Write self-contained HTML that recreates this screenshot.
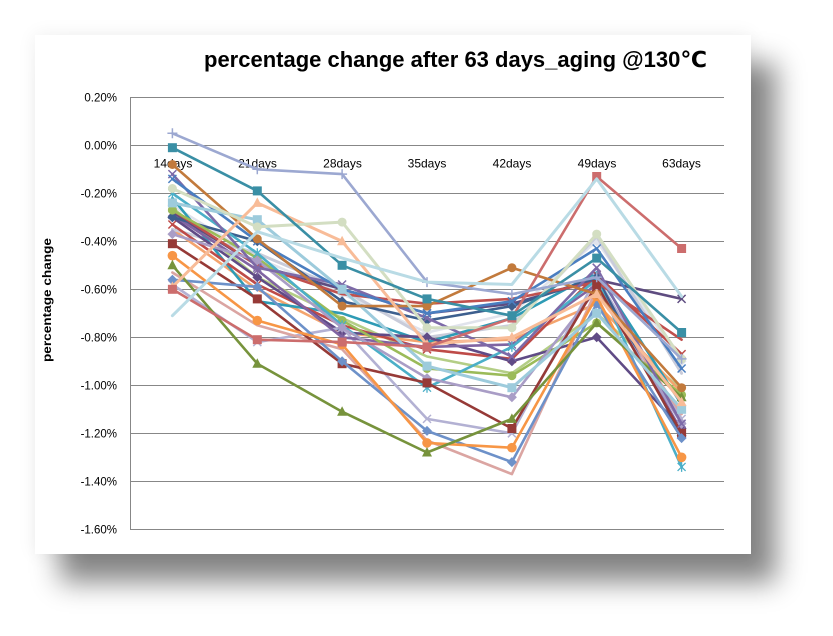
<!DOCTYPE html>
<html>
<head>
<meta charset="utf-8">
<style>
  html,body{margin:0;padding:0;background:#ffffff;}
  body{width:833px;height:636px;position:relative;overflow:hidden;}
  .panel{position:absolute;left:35px;top:35px;width:716px;height:519px;background:#fff;
    box-shadow:25px 28px 26px rgba(0,0,0,0.48), 0 0 18px rgba(0,0,0,0.07);}
  svg{position:absolute;left:0;top:0;}
  text{font-family:"Liberation Sans","DejaVu Sans","Noto Sans CJK SC",sans-serif;fill:#000;}
</style>
</head>
<body>
<div class="panel"></div>
<svg width="833" height="636" viewBox="0 0 833 636" xmlns="http://www.w3.org/2000/svg">
<defs>
  <marker id="m1" markerUnits="userSpaceOnUse" markerWidth="12" markerHeight="12" refX="0" refY="0" viewBox="-6 -6 12 12" overflow="visible"><path d="M-5,0H5M0,-5V5" stroke="#9CA8D1" stroke-width="1.5"/></marker>
  <marker id="m2" markerUnits="userSpaceOnUse" markerWidth="12" markerHeight="12" refX="0" refY="0" viewBox="-6 -6 12 12" overflow="visible"><rect x="-4.5" y="-4.5" width="9" height="9" fill="#3A8FA5"/></marker>
  <marker id="m3" markerUnits="userSpaceOnUse" markerWidth="12" markerHeight="12" refX="0" refY="0" viewBox="-6 -6 12 12" overflow="visible"><circle r="4.5" fill="#C27A3C"/></marker>
  <marker id="m4" markerUnits="userSpaceOnUse" markerWidth="12" markerHeight="12" refX="0" refY="0" viewBox="-6 -6 12 12" overflow="visible"><path d="M-4,-4L4,4M-4,4L4,-4" stroke="#7D6AA8" stroke-width="1.5"/></marker>
  <marker id="m5" markerUnits="userSpaceOnUse" markerWidth="12" markerHeight="12" refX="0" refY="0" viewBox="-6 -6 12 12" overflow="visible"><path d="M-4,-4L4,4M-4,4L4,-4" stroke="#4A7EC0" stroke-width="1.5"/></marker>
  <marker id="m6" markerUnits="userSpaceOnUse" markerWidth="12" markerHeight="12" refX="0" refY="0" viewBox="-6 -6 12 12" overflow="visible"><circle r="4.5" fill="#D3DEC2"/></marker>
  <marker id="m7" markerUnits="userSpaceOnUse" markerWidth="12" markerHeight="12" refX="0" refY="0" viewBox="-6 -6 12 12" overflow="visible"><rect x="-4.5" y="-4.5" width="9" height="9" fill="#9DCBDC"/></marker>
  <marker id="m8" markerUnits="userSpaceOnUse" markerWidth="12" markerHeight="12" refX="0" refY="0" viewBox="-6 -6 12 12" overflow="visible"><path d="M-4,-4L4,4M-4,4L4,-4M0,-5V5" stroke="#4BAFC8" stroke-width="1.3"/></marker>
  <marker id="m9" markerUnits="userSpaceOnUse" markerWidth="12" markerHeight="12" refX="0" refY="0" viewBox="-6 -6 12 12" overflow="visible"><circle r="4.5" fill="#9BBB59"/></marker>
  <marker id="m11" markerUnits="userSpaceOnUse" markerWidth="12" markerHeight="12" refX="0" refY="0" viewBox="-6 -6 12 12" overflow="visible"><path d="M-4,-4L4,4M-4,4L4,-4M0,-5V5" stroke="#8064A2" stroke-width="1.3"/></marker>
  <marker id="m12" markerUnits="userSpaceOnUse" markerWidth="12" markerHeight="12" refX="0" refY="0" viewBox="-6 -6 12 12" overflow="visible"><path d="M0,-5L5,0L0,5L-5,0Z" fill="#3D5F8E"/></marker>
  <marker id="m13" markerUnits="userSpaceOnUse" markerWidth="12" markerHeight="12" refX="0" refY="0" viewBox="-6 -6 12 12" overflow="visible"><path d="M0,-5L5,0L0,5L-5,0Z" fill="#A99DC6"/></marker>
  <marker id="m14" markerUnits="userSpaceOnUse" markerWidth="12" markerHeight="12" refX="0" refY="0" viewBox="-6 -6 12 12" overflow="visible"><rect x="-4.5" y="-4.5" width="9" height="9" fill="#963A37"/></marker>
  <marker id="m15" markerUnits="userSpaceOnUse" markerWidth="12" markerHeight="12" refX="0" refY="0" viewBox="-6 -6 12 12" overflow="visible"><circle r="4.8" fill="#F79646"/></marker>
  <marker id="m16" markerUnits="userSpaceOnUse" markerWidth="12" markerHeight="12" refX="0" refY="0" viewBox="-6 -6 12 12" overflow="visible"><path d="M0,-5.5L5,4L-5,4Z" fill="#77933C"/></marker>
  <marker id="m17" markerUnits="userSpaceOnUse" markerWidth="12" markerHeight="12" refX="0" refY="0" viewBox="-6 -6 12 12" overflow="visible"><path d="M0,-5L5,0L0,5L-5,0Z" fill="#6D91C9"/></marker>
  <marker id="m18" markerUnits="userSpaceOnUse" markerWidth="12" markerHeight="12" refX="0" refY="0" viewBox="-6 -6 12 12" overflow="visible"><path d="M0,-5.5L5,4L-5,4Z" fill="#F8BC98"/></marker>
  <marker id="m19" markerUnits="userSpaceOnUse" markerWidth="12" markerHeight="12" refX="0" refY="0" viewBox="-6 -6 12 12" overflow="visible"><rect x="-4.5" y="-4.5" width="9" height="9" fill="#CC6D6D"/></marker>
  <marker id="m22" markerUnits="userSpaceOnUse" markerWidth="12" markerHeight="12" refX="0" refY="0" viewBox="-6 -6 12 12" overflow="visible"><path d="M-4,-4L4,4M-4,4L4,-4" stroke="#5E4C80" stroke-width="1.5"/></marker>
  <marker id="m23" markerUnits="userSpaceOnUse" markerWidth="12" markerHeight="12" refX="0" refY="0" viewBox="-6 -6 12 12" overflow="visible"><path d="M-4,-4L4,4M-4,4L4,-4" stroke="#B3B1D3" stroke-width="1.5"/></marker>
  <marker id="m24" markerUnits="userSpaceOnUse" markerWidth="12" markerHeight="12" refX="0" refY="0" viewBox="-6 -6 12 12" overflow="visible"><path d="M0,-5L5,0L0,5L-5,0Z" fill="#604B86"/></marker>
  <marker id="m25" markerUnits="userSpaceOnUse" markerWidth="12" markerHeight="12" refX="0" refY="0" viewBox="-6 -6 12 12" overflow="visible"><path d="M-4,-4L4,4M-4,4L4,-4" stroke="#BE4B48" stroke-width="1.5"/></marker>
  <marker id="m30" markerUnits="userSpaceOnUse" markerWidth="12" markerHeight="12" refX="0" refY="0" viewBox="-6 -6 12 12" overflow="visible"><path d="M0,-5L5,0L0,5L-5,0Z" fill="#E0E3EC"/></marker>
</defs>

<!-- title -->
<text x="204" y="67" font-size="22" font-weight="bold" textLength="503" lengthAdjust="spacingAndGlyphs">percentage change after 63 days_aging @130℃</text>

<!-- gridlines -->
<g stroke="#878787" stroke-width="1" fill="none">
  <line x1="130" y1="97.5" x2="724" y2="97.5"/>
  <line x1="130" y1="145.5" x2="724" y2="145.5"/>
  <line x1="130" y1="193.5" x2="724" y2="193.5"/>
  <line x1="130" y1="241.5" x2="724" y2="241.5"/>
  <line x1="130" y1="289.5" x2="724" y2="289.5"/>
  <line x1="130" y1="337.5" x2="724" y2="337.5"/>
  <line x1="130" y1="385.5" x2="724" y2="385.5"/>
  <line x1="130" y1="433.5" x2="724" y2="433.5"/>
  <line x1="130" y1="481.5" x2="724" y2="481.5"/>
  <line x1="130" y1="529.5" x2="724" y2="529.5"/>
  <line x1="130.5" y1="97" x2="130.5" y2="530"/>
</g>

<!-- y tick labels -->
<g font-size="11.5" text-anchor="end">
  <text x="117" y="101.5">0.20%</text>
  <text x="117" y="149.5">0.00%</text>
  <text x="117" y="197.5">-0.20%</text>
  <text x="117" y="245.5">-0.40%</text>
  <text x="117" y="293.5">-0.60%</text>
  <text x="117" y="341.5">-0.80%</text>
  <text x="117" y="389.5">-1.00%</text>
  <text x="117" y="437.5">-1.20%</text>
  <text x="117" y="485.5">-1.40%</text>
  <text x="117" y="533.5">-1.60%</text>
</g>

<!-- y axis title -->
<text transform="translate(51,300) rotate(-90)" font-size="12" font-weight="bold" text-anchor="middle" textLength="124" lengthAdjust="spacingAndGlyphs">percentage change</text>

<!-- category labels -->
<g font-size="12" text-anchor="middle">
  <text x="173" y="167.5">14days</text>
  <text x="257.5" y="167.5">21days</text>
  <text x="342.5" y="167.5">28days</text>
  <text x="427" y="167.5">35days</text>
  <text x="512" y="167.5">42days</text>
  <text x="597" y="167.5">49days</text>
  <text x="681.5" y="167.5">63days</text>
</g>

<!-- series -->
<g fill="none" stroke-width="2.6" stroke-linejoin="round" stroke-linecap="round">
  <polyline stroke="#E0E3EC" marker-start="url(#m30)" marker-mid="url(#m30)" marker-end="url(#m30)" points="172.4,205.3 257.3,258.1 342.1,294.1 427,332.5 511.9,313.3 596.7,241.3 681.6,361.3"/>
  <polyline stroke="#B4CE86" points="172.4,207.7 257.3,277.3 342.1,318.1 427,356.5 511.9,373.3 596.7,313.3 681.6,390.1"/>
  <polyline stroke="#F4A46E" points="172.4,229.3 257.3,289.3 342.1,332.5 427,342.1 511.9,339.7 596.7,303.7 681.6,392.5"/>
  <polyline stroke="#C9CCDA" stroke-width="3" points="172.4,229.3 257.3,253.3 342.1,289.3 427,337.3 511.9,325.3 596.7,236.5 681.6,373.3"/>
  <polyline stroke="#2E9BB5" points="172.4,198.1 257.3,301.3 342.1,313.3 427,342.1 511.9,318.1 596.7,272.5 681.6,404.5"/>
  <polyline stroke="#BE4B48" marker-start="url(#m25)" marker-mid="url(#m25)" marker-end="url(#m25)" points="172.4,224.5 257.3,284.5 342.1,325.3 427,349.3 511.9,358.9 596.7,274.9 681.6,354.1"/>
  <polyline stroke="#604B86" marker-start="url(#m24)" marker-mid="url(#m24)" marker-end="url(#m24)" points="172.4,217.3 257.3,277.3 342.1,332.5 427,337.3 511.9,361.3 596.7,337.3 681.6,428.5"/>
  <polyline stroke="#B3B1D3" marker-start="url(#m23)" marker-mid="url(#m23)" marker-end="url(#m23)" points="172.4,284.5 257.3,342.1 342.1,327.7 427,418.9 511.9,433.3 596.7,277.3 681.6,418.9"/>
  <polyline stroke="#5E4C80" marker-start="url(#m22)" marker-mid="url(#m22)" marker-end="url(#m22)" points="172.4,212.5 257.3,265.3 342.1,289.3 427,313.3 511.9,303.7 596.7,279.7 681.6,298.9"/>
  <polyline stroke="#DBA5A2" points="172.4,272.5 257.3,325.3 342.1,349.3 427,440.5 511.9,474.1 596.7,289.3 681.6,414.1"/>
  <polyline stroke="#8064A2" marker-start="url(#m11)" marker-mid="url(#m11)" marker-end="url(#m11)" points="172.4,214.9 257.3,270.1 342.1,337.3 427,346.9 511.9,344.5 596.7,284.5 681.6,430.9"/>
  <polyline stroke="#3D5F8E" marker-start="url(#m12)" marker-mid="url(#m12)" marker-end="url(#m12)" points="172.4,217.3 257.3,241.3 342.1,301.3 427,320.5 511.9,306.1 596.7,277.3 681.6,435.7"/>
  <polyline stroke="#C0504D" points="172.4,210.1 257.3,265.3 342.1,294.1 427,303.7 511.9,298.9 596.7,282.1 681.6,339.7"/>
  <polyline stroke="#9BBB59" marker-start="url(#m9)" marker-mid="url(#m9)" marker-end="url(#m9)" points="172.4,210.1 257.3,258.1 342.1,320.5 427,368.5 511.9,375.7 596.7,322.9 681.6,394.9"/>
  <polyline stroke="#4BAFC8" marker-start="url(#m8)" marker-mid="url(#m8)" marker-end="url(#m8)" points="172.4,193.3 257.3,253.3 342.1,325.3 427,387.7 511.9,346.9 596.7,279.7 681.6,466.9"/>
  <polyline stroke="#A99DC6" marker-start="url(#m13)" marker-mid="url(#m13)" marker-end="url(#m13)" points="172.4,234.1 257.3,260.5 342.1,327.7 427,378.1 511.9,397.3 596.7,289.3 681.6,423.7"/>
  <polyline stroke="#963A37" marker-start="url(#m14)" marker-mid="url(#m14)" marker-end="url(#m14)" points="172.4,243.7 257.3,298.9 342.1,363.7 427,382.9 511.9,428.5 596.7,284.5 681.6,433.3"/>
  <polyline stroke="#6D91C9" marker-start="url(#m17)" marker-mid="url(#m17)" marker-end="url(#m17)" points="172.4,279.7 257.3,286.9 342.1,361.3 427,430.9 511.9,462.1 596.7,303.7 681.6,438.1"/>
  <polyline stroke="#F79646" marker-start="url(#m15)" marker-mid="url(#m15)" marker-end="url(#m15)" points="172.4,255.7 257.3,320.5 342.1,344.5 427,442.9 511.9,447.7 596.7,296.5 681.6,457.3"/>
  <polyline stroke="#77933C" marker-start="url(#m16)" marker-mid="url(#m16)" marker-end="url(#m16)" points="172.4,265.3 257.3,363.7 342.1,411.7 427,452.5 511.9,418.9 596.7,322.9 681.6,397.3"/>
  <polyline stroke="#7D6AA8" marker-start="url(#m4)" marker-mid="url(#m4)" marker-end="url(#m4)" points="172.4,174.1 257.3,267.7 342.1,284.5 427,318.1 511.9,356.5 596.7,267.7 681.6,423.7"/>
  <polyline stroke="#4A7EC0" marker-start="url(#m5)" marker-mid="url(#m5)" marker-end="url(#m5)" points="172.4,178.9 257.3,241.3 342.1,289.3 427,313.3 511.9,301.3 596.7,248.5 681.6,368.5"/>
  <polyline stroke="#9DCBDC" stroke-width="3" marker-start="url(#m7)" marker-mid="url(#m7)" marker-end="url(#m7)" points="172.4,202.9 257.3,219.7 342.1,289.3 427,366.1 511.9,387.7 596.7,313.3 681.6,409.3"/>
  <polyline stroke="#C27A3C" marker-start="url(#m3)" marker-mid="url(#m3)" marker-end="url(#m3)" points="172.4,164.5 257.3,238.9 342.1,306.1 427,306.1 511.9,267.7 596.7,294.1 681.6,387.7"/>
  <polyline stroke="#F8BC98" stroke-width="3" marker-start="url(#m18)" marker-mid="url(#m18)" marker-end="url(#m18)" points="172.4,286.9 257.3,202.9 342.1,241.3 427,344.5 511.9,337.3 596.7,294.1 681.6,402.1"/>
  <polyline stroke="#D3DEC2" stroke-width="3" marker-start="url(#m6)" marker-mid="url(#m6)" marker-end="url(#m6)" points="172.4,188.5 257.3,226.9 342.1,222.1 427,327.7 511.9,327.7 596.7,234.1 681.6,358.9"/>
  <polyline stroke="#CC6D6D" marker-start="url(#m19)" marker-mid="url(#m19)" marker-end="url(#m19)" points="172.4,289.3 257.3,339.7 342.1,342.1 427,346.9 511.9,318.1 596.7,176.5 681.6,248.5"/>
  <polyline stroke="#3A8FA5" marker-start="url(#m2)" marker-mid="url(#m2)" marker-end="url(#m2)" points="172.4,147.7 257.3,190.9 342.1,265.3 427,298.9 511.9,315.7 596.7,258.1 681.6,332.5"/>
  <polyline stroke="#9CA8D1" marker-start="url(#m1)" marker-mid="url(#m1)" marker-end="url(#m1)" points="172.4,133.3 257.3,169.3 342.1,174.1 427,282.1 511.9,294.1 596.7,277.3 681.6,358.9"/>
  <polyline stroke="#B9DBE5" stroke-width="3" points="172.4,315.7 257.3,231.7 342.1,258.1 427,282.1 511.9,284.5 596.7,178.9 681.6,296.5"/>
</g>
</svg>
</body>
</html>
